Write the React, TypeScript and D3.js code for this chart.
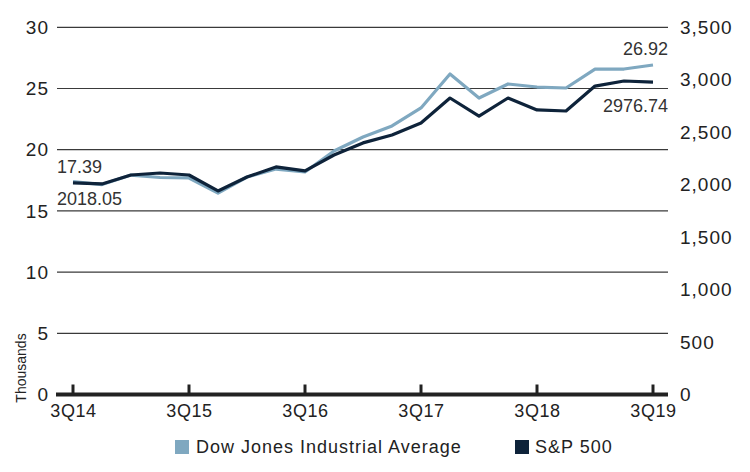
import React from "react";
import * as d3 from "d3";

const quarters = ["3Q14","4Q14","1Q15","2Q15","3Q15","4Q15","1Q16","2Q16","3Q16","4Q16","1Q17","2Q17","3Q17","4Q17","1Q18","2Q18","3Q18","4Q18","1Q19","2Q19","3Q19"];
const dowValues = [17.39,17.15,17.93,17.73,17.69,16.46,17.77,18.42,18.18,19.89,21.04,21.94,23.41,26.18,24.22,25.37,25.12,25.04,26.59,26.59,26.92];
const spValues = [2018.05,2007,2092,2111,2092,1940,2073,2169,2131,2283,2398,2473,2588,2826,2654,2826,2712,2702,2940,2988,2976.74];
const xTickLabels = ["3Q14","3Q15","3Q16","3Q17","3Q18","3Q19"];
const leftTicks = [0,5,10,15,20,25,30];
const rightTicks = [0,500,1000,1500,2000,2500,3000,3500];

const W = 750, H = 472;
const FONT = "'Liberation Sans', Arial, sans-serif";
const DOW_COLOR = "#7fa8c0";
const SP_COLOR = "#0e233a";

export default function App() {
  const x = d3.scalePoint<string>().domain(quarters).range([73, 653]);
  const yL = d3.scaleLinear().domain([0, 30]).range([394.5, 27.3]);
  const yR = d3.scaleLinear().domain([0, 3500]).range([394.5, 27.3]);
  const lineDow = d3.line<number>().x((_, i) => x(quarters[i])!).y(d => yL(d));
  const lineSp = d3.line<number>().x((_, i) => x(quarters[i])!).y(d => yR(d));
  const fmt = d3.format(",");
  const x0 = 57, x1 = 668;
  const last = quarters.length - 1;

  return (
    <svg width={W} height={H} style={{ position: "absolute", left: 0, top: 0, background: "#fff" }} fontFamily={FONT}>
      {leftTicks.slice(1).map(t => (
        <line key={t} x1={x0} x2={x1} y1={yL(t)} y2={yL(t)} stroke="#3a3a3a" strokeWidth={1.2} />
      ))}
      {leftTicks.map(t => (
        <text key={"l" + t} x={49} y={yL(t)} dy="0.35em" textAnchor="end" fontSize={19} letterSpacing={1} fill="#222">{t}</text>
      ))}
      {rightTicks.map(t => (
        <text key={"r" + t} x={680} y={yR(t)} dy="0.35em" textAnchor="start" fontSize={19} letterSpacing={1} fill="#222">{fmt(t)}</text>
      ))}
      <path d={lineDow(dowValues)!} fill="none" stroke={DOW_COLOR} strokeWidth={3.2} strokeLinejoin="round" />
      <path d={lineSp(spValues)!} fill="none" stroke={SP_COLOR} strokeWidth={3.2} strokeLinejoin="round" />
      <line x1={x0 - 1} x2={x1} y1={yL(0)} y2={yL(0)} stroke="#222" strokeWidth={4} />
      {xTickLabels.map(q => (
        <g key={q}>
          <line x1={x(q)!} x2={x(q)!} y1={yL(0)} y2={yL(0) - 10} stroke="#222" strokeWidth={3} />
          <text x={x(q)! + 0.5} y={417} textAnchor="middle" fontSize={18} letterSpacing={0.6} fill="#222">{q}</text>
        </g>
      ))}
      <text x={57} y={173} fontSize={18} fill="#333">{dowValues[0].toFixed(2)}</text>
      <text x={57} y={205} fontSize={18} fill="#333">{spValues[0].toFixed(2)}</text>
      <text x={x1} y={55} textAnchor="end" fontSize={18} fill="#333">{dowValues[last].toFixed(2)}</text>
      <text x={x1} y={112} textAnchor="end" fontSize={18} fill="#333">{spValues[last].toFixed(2)}</text>
      <text transform="translate(26,368) rotate(-90)" textAnchor="middle" fontSize={14} fill="#222" fontFamily="'Liberation Sans Narrow', 'Liberation Sans', sans-serif">Thousands</text>
      <rect x={175} y={440} width={14} height={14} fill={DOW_COLOR} />
      <text x={196} y={453} fontSize={18} letterSpacing={1} fill="#222">Dow Jones Industrial Average</text>
      <rect x={515} y={440} width={14} height={14} fill={SP_COLOR} />
      <text x={535} y={453} fontSize={18} letterSpacing={1} fill="#222">S&amp;P 500</text>
    </svg>
  );
}
